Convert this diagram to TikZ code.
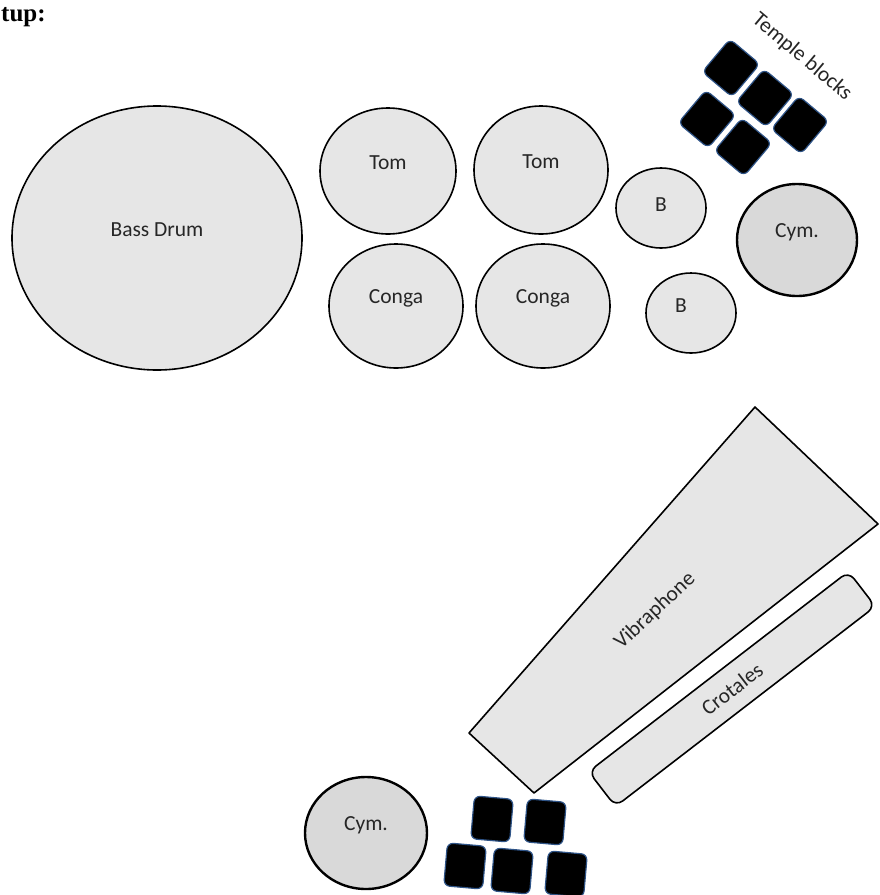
\documentclass[tikz,border=0pt]{standalone}
\usepackage{fontspec}
\setmainfont{Carlito}
\newfontfamily\headfont{Liberation Serif}
\usepackage{xcolor}
\usetikzlibrary{shapes.geometric}
\definecolor{drumgray}{HTML}{E6E6E6}
\definecolor{cymgray}{HTML}{D9D9D9}
\definecolor{blockedge}{HTML}{2F5487}

\begin{document}
\begin{tikzpicture}[
    x=1pt, y=-1pt,
    every node/.style={font=\fontsize{21.5}{23}\selectfont, text=black!85},
    drum/.style 2 args={ellipse, draw=black, fill=drumgray, line width=1.6pt,
                   minimum width=#1pt, minimum height=#2pt, inner sep=0pt, outer sep=0pt},
    cym/.style 2 args={drum={#1}{#2}, fill=cymgray, line width=2.4pt},
    lift/.style={yshift=8pt},
    tblock/.style={rectangle, draw=blockedge, fill=black, line width=1.2pt,
                   minimum width=39pt, minimum height=43pt, inner sep=0pt,
                   rounded corners=6pt},
    plate/.style={draw=black, fill=drumgray, line width=1.6pt, line join=round}
]
\useasboundingbox (0,0) rectangle (880,895);

% Heading
\node[font=\headfont\bfseries\fontsize{25}{26}\selectfont, text=black, anchor=west, inner sep=0pt] at (1,17) (heading) {tup:};

% Drums
\node[drum={290}{264}, label={[lift]center:Bass Drum}] at (157,238) (bass) {};
\node[drum={136}{126}, label={[lift]center:Tom}] at (388,171) (tomA) {};
\node[drum={134}{128}, label={[lift]center:Tom}] at (541,170) (tomB) {};
\node[drum={134}{124}, label={[lift]center:Conga}] at (396,306) (congaA) {};
\node[drum={134}{124}, label={[lift]center:Conga}] at (543,306) (congaB) {};
\node[drum={90}{80}, label={[yshift=3pt]center:B}] at (661,208) (bongoA) {};
\node[drum={90}{80}, label={[yshift=7pt,xshift=-10pt]center:B}] at (691,313) (bongoB) {};

% Cymbals
\node[cym={120}{112}, label={[lift]center:Cym.}] at (797,240) (cymA) {};
\node[cym={122}{112}, label={[lift]center:Cym.}] at (366,833) (cymB) {};

% Temple blocks, upper group
\foreach \name/\px/\py in {tA/731/68, tB/765/98, tC/800/125, tD/707/119, tE/743/147}
    \node[tblock, rotate=-40] at (\px,\py) (\name) {};
\node[rotate=-40] at (802,57) (templelabel) {Temple blocks};

% Temple blocks, lower group
\foreach \name/\px/\py in {bA/492/819, bB/545/822, bC/465/866, bD/512/871, bE/566/874}
    \node[tblock, rotate=-5] at (\px,\py) (\name) {};

% Vibraphone and crotales
\draw[plate] (755,407) -- (878,524) -- (534,793) -- (469,733) -- cycle;
\node[rotate=43] at (655,611) (vibes) {Vibraphone};
\node[plate, rectangle, rounded corners=9pt, rotate=37.6, minimum width=328pt, minimum height=44pt] at (732,689) (crotales) {Crotales};

\end{tikzpicture}
\end{document}
